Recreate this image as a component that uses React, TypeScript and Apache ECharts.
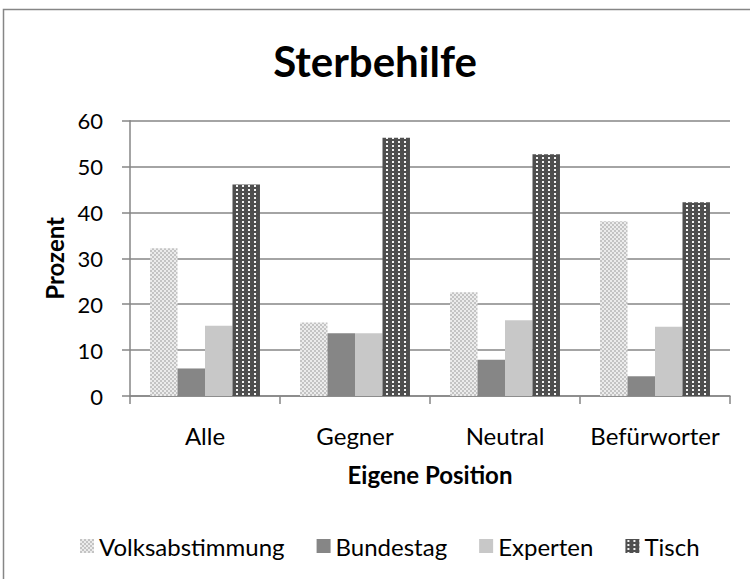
import React, { useEffect, useRef } from "react";
import * as echarts from "echarts";

const categories = ["Alle", "Gegner", "Neutral", "Befürworter"];
const seriesNames = ["Volksabstimmung", "Bundestag", "Experten", "Tisch"];
const volksabstimmung = [32.2, 16.0, 22.6, 38.1];
const bundestag = [6.0, 13.7, 7.9, 4.3];
const experten = [15.3, 13.7, 16.5, 15.1];
const tisch = [46.1, 56.3, 52.7, 42.2];
const yTicks = { min: 0, max: 60, interval: 10 };

const FONT = "Lato, 'Noto Sans', sans-serif";

function makeCheckerTile(): HTMLCanvasElement {
  const c = document.createElement("canvas");
  c.width = 4;
  c.height = 4;
  const ctx = c.getContext("2d")!;
  ctx.fillStyle = "#ececec";
  ctx.fillRect(0, 0, 4, 4);
  ctx.fillStyle = "#c4c4c4";
  ctx.fillRect(0, 0, 2, 2);
  ctx.fillRect(2, 2, 2, 2);
  return c;
}

function makeDotTile(): HTMLCanvasElement {
  const c = document.createElement("canvas");
  c.width = 6;
  c.height = 4;
  const ctx = c.getContext("2d")!;
  ctx.fillStyle = "#4f4f4f";
  ctx.fillRect(0, 0, 6, 4);
  ctx.fillStyle = "#f4f4f4";
  ctx.fillRect(2, 1, 2, 2);
  return c;
}

export default function App() {
  const ref = useRef<HTMLDivElement>(null);
  useEffect(() => {
    document.body.style.margin = "0";
    const chart = echarts.init(ref.current!, null, { renderer: "svg" });
    const checker = makeCheckerTile();
    const dots = makeDotTile();
    const fills: any[] = [
      { image: checker, repeat: "repeat" },
      "#868686",
      "#c8c8c8",
      { image: dots, repeat: "repeat" },
    ];
    const datas = [volksabstimmung, bundestag, experten, tisch];
    const axisColor = "#868686";
    chart.setOption({
      animation: false,
      backgroundColor: "#ffffff",
      title: {
        text: "Sterbehilfe",
        left: "center",
        top: 35,
        textStyle: { fontFamily: FONT, fontSize: 42, fontWeight: "bold", color: "#000" },
      },
      graphic: [
        {
          type: "rect",
          shape: { x: 3.5, y: 9.5, width: 780, height: 620 },
          style: { fill: "none", stroke: axisColor, lineWidth: 1.5 },
          silent: true,
        },
      ],
      legend: {
        left: 75,
        top: 529,
        itemWidth: 14,
        itemHeight: 14,
        itemGap: 32,
        icon: "rect",
        data: seriesNames,
        textStyle: { fontFamily: FONT, fontSize: 24, color: "#000" },
      },
      grid: { left: 130, right: 20, top: 120.7, bottom: 183 },
      xAxis: {
        type: "category",
        data: categories,
        name: "Eigene Position",
        nameLocation: "middle",
        nameGap: 66,
        nameTextStyle: { fontFamily: FONT, fontSize: 24, fontWeight: "bold", color: "#000" },
        axisLine: { lineStyle: { color: axisColor, width: 1.5 } },
        axisTick: { show: true, interval: 0, length: 8, lineStyle: { color: axisColor, width: 1.5 } },
        axisLabel: { interval: 0, fontFamily: FONT, fontSize: 24, color: "#000", margin: 27 },
      },
      yAxis: {
        type: "value",
        min: yTicks.min,
        max: yTicks.max,
        interval: yTicks.interval,
        name: "Prozent",
        nameLocation: "middle",
        nameRotate: 90,
        nameGap: 62,
        nameTextStyle: { fontFamily: FONT, fontSize: 24, fontWeight: "bold", color: "#000" },
        axisLine: { show: true, lineStyle: { color: axisColor, width: 1.5 } },
        axisTick: { show: true, length: 8, lineStyle: { color: axisColor, width: 1.5 } },
        axisLabel: { fontFamily: FONT, fontSize: 22, color: "#000", margin: 27 },
        splitLine: { show: true, lineStyle: { color: axisColor, width: 1.5 } },
      },
      series: seriesNames.map((name, i) => ({
        name,
        type: "bar",
        data: datas[i],
        barGap: "0%",
        barCategoryGap: "26.7%",
        itemStyle: { color: fills[i] },
      })),
    });
    return () => chart.dispose();
  }, []);
  return <div ref={ref} style={{ width: 750, height: 579 }} />;
}
